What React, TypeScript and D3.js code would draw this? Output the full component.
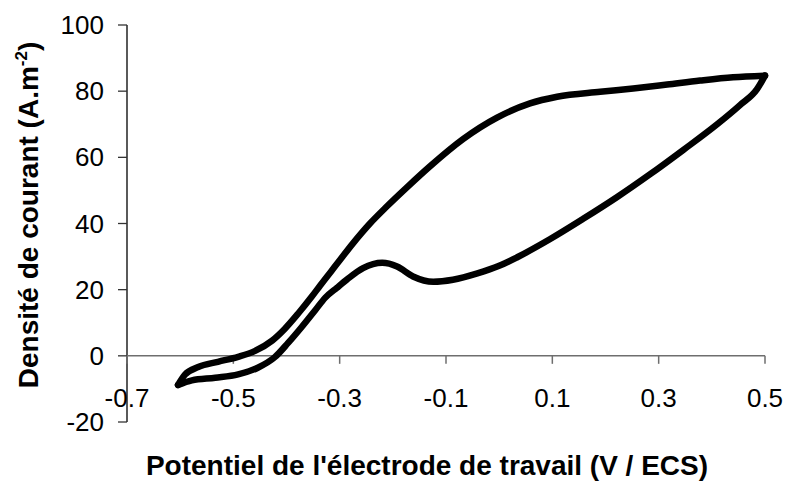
import React from 'react';
import * as d3 from 'd3';

// Forward (anodic) scan, lower branch at high potential
const forwardV = [-0.604, -0.578, -0.534, -0.491, -0.454, -0.422, -0.397, -0.371, -0.346, -0.327, -0.305, -0.286, -0.256, -0.22, -0.192, -0.162, -0.124, -0.087, -0.041, 0.0, 0.034, 0.096, 0.158, 0.222, 0.284, 0.346, 0.41, 0.453, 0.485, 0.5];
const forwardI = [-8.8, -7.4, -6.6, -5.6, -3.6, -0.4, 3.9, 8.8, 13.8, 17.6, 20.6, 23.1, 26.5, 28.1, 27.0, 24.0, 22.4, 23.0, 24.9, 27.2, 29.8, 35.3, 41.4, 48.0, 54.9, 62.2, 70.0, 75.8, 80.6, 84.7];

// Reverse (cathodic) scan, upper branch at high potential
const reverseV = [0.5, 0.44, 0.378, 0.316, 0.252, 0.19, 0.109, 0.058, -0.004, -0.068, -0.13, -0.173, -0.211, -0.243, -0.275, -0.305, -0.337, -0.352, -0.378, -0.403, -0.427, -0.459, -0.491, -0.529, -0.566, -0.591, -0.604];
const reverseI = [84.7, 84.2, 83.2, 82.0, 80.8, 79.8, 78.3, 76.3, 72.0, 65.5, 57.3, 51.0, 45.2, 40.0, 34.0, 27.8, 21.2, 18.0, 12.8, 8.2, 4.6, 1.5, -0.3, -1.8, -3.4, -5.7, -8.8];

const xTicks = [-0.7, -0.5, -0.3, -0.1, 0.1, 0.3, 0.5];
const yTicks = [-20, 0, 20, 40, 60, 80, 100];

const xTitle = "Potentiel de l'électrode de travail (V / ECS)";
const yTitle = 'Densité de courant (A.m';

export default function App() {
  const W = 787;
  const H = 484;
  const x = d3.scaleLinear().domain([-0.7, 0.5]).range([127, 765]);
  const y = d3.scaleLinear().domain([-20, 100]).range([422, 25]);

  const fwd: [number, number][] = forwardV.map((v, i) => [v, forwardI[i]]);
  const rev: [number, number][] = reverseV
    .map((v, i) => [v, reverseI[i]] as [number, number])
    .reverse();
  const line = d3
    .line<[number, number]>()
    .x((d) => x(d[0]))
    .y((d) => y(d[1]))
    .curve(d3.curveMonotoneX);

  const font = "Arial, 'Liberation Sans', sans-serif";
  const y0 = y(0);

  return (
    <svg
      width={W}
      height={H}
      style={{ position: 'absolute', left: 0, top: 0, background: '#fff' }}
      fontFamily={font}
    >
      <rect x={0} y={0} width={W} height={H} fill="#fff" />
      {/* y axis */}
      <line x1={x(-0.7)} x2={x(-0.7)} y1={y(100)} y2={y(-20)} stroke="#000" strokeWidth={1.3} />
      {yTicks.map((t) => (
        <g key={'yt' + t}>
          <line x1={x(-0.7) - 9} x2={x(-0.7)} y1={y(t)} y2={y(t)} stroke="#333" strokeWidth={1.3} />
          <text x={104} y={y(t)} dy="0.35em" textAnchor="end" fontSize={26} fill="#000">
            {t}
          </text>
        </g>
      ))}
      {/* x axis */}
      <line x1={x(-0.7)} x2={x(0.5)} y1={y0} y2={y0} stroke="#6e6e6e" strokeWidth={1.5} />
      {xTicks.map((t) => (
        <g key={'xt' + t}>
          <line x1={x(t)} x2={x(t)} y1={y0} y2={y0 + 8} stroke="#6e6e6e" strokeWidth={1.5} />
          <text x={x(t)} y={407} textAnchor="middle" fontSize={26} fill="#000">
            {t.toFixed(1)}
          </text>
        </g>
      ))}
      {/* curve */}
      <path d={line(fwd) || ''} fill="none" stroke="#000" strokeWidth={6.5} strokeLinejoin="round" strokeLinecap="round" />
      <path d={line(rev) || ''} fill="none" stroke="#000" strokeWidth={6.5} strokeLinejoin="round" strokeLinecap="round" />
      {/* titles */}
      <text x={427} y={475} textAnchor="middle" fontSize={28} fontWeight="bold" fill="#000">
        {xTitle}
      </text>
      <text transform="translate(38,215) rotate(-90)" textAnchor="middle" fontSize={28} fontWeight="bold" fill="#000">
        {yTitle}
        <tspan fontSize={17} dy={-11}>-2</tspan>
        <tspan dy={11}>)</tspan>
      </text>
    </svg>
  );
}
